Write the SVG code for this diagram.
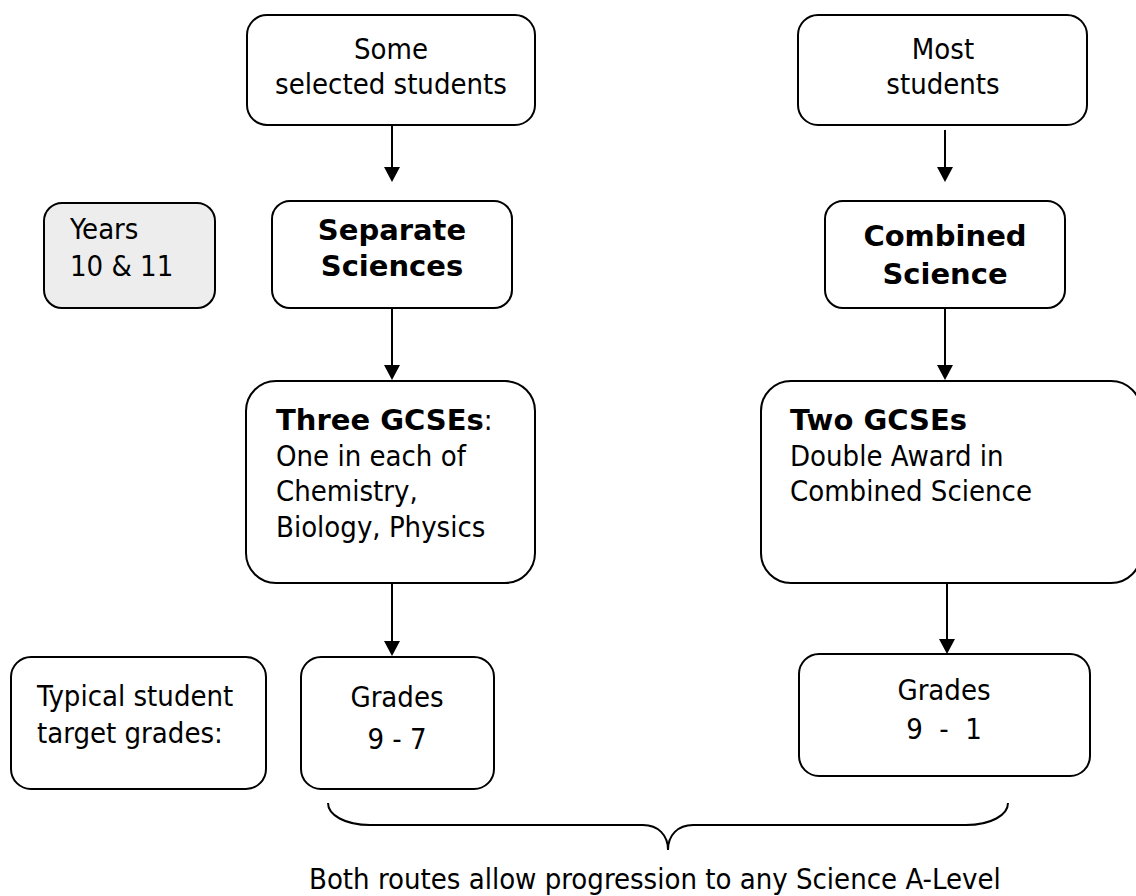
<svg xmlns="http://www.w3.org/2000/svg" width="1136" height="896" viewBox="0 0 1136 896">
<style>
.box{fill:#ffffff;stroke:#000000;stroke-width:2}
.grey{fill:#ededed;stroke:#000000;stroke-width:2}
text{font-family:"DejaVu Sans Condensed","DejaVu Sans",sans-serif;font-stretch:condensed;font-size:29px;fill:#000000}
.c{text-anchor:middle}
.b{font-family:"DejaVu Sans",sans-serif;font-stretch:normal;font-weight:bold}
.line{stroke:#000000;stroke-width:2;fill:none}
.head{fill:#000000}
</style>
<defs>
<path id="ah" d="M-8,-15 L8,-15 L0,0 Z"/>
</defs>
<rect width="1136" height="896" fill="#ffffff"/>

<g id="some-students">
<rect class="box" x="247" y="15" width="288" height="110" rx="20"/>
<text class="c" x="391" y="59">Some</text>
<text class="c" x="391" y="94">selected students</text>
</g>

<g id="most-students">
<rect class="box" x="798" y="15" width="289" height="110" rx="20"/>
<text class="c" x="943" y="59">Most</text>
<text class="c" x="943" y="94">students</text>
</g>

<g id="years">
<rect class="grey" x="44" y="203" width="171" height="105" rx="18"/>
<text x="70" y="239">Years</text>
<text x="70" y="276">10 &amp; 11</text>
</g>

<g id="separate-sciences">
<rect class="box" x="272" y="201" width="240" height="107" rx="18"/>
<text class="c b" x="392" y="240">Separate</text>
<text class="c b" x="392" y="276">Sciences</text>
</g>

<g id="combined-science">
<rect class="box" x="825" y="201" width="240" height="107" rx="18"/>
<text class="c b" x="945" y="246">Combined</text>
<text class="c b" x="945" y="284">Science</text>
</g>

<g id="three-gcses">
<rect class="box" x="246" y="381" width="289" height="202" rx="30"/>
<text x="276" y="430"><tspan class="b">Three GCSEs</tspan>:</text>
<text x="276" y="466">One in each of</text>
<text x="276" y="501">Chemistry,</text>
<text x="276" y="537">Biology, Physics</text>
</g>

<g id="two-gcses">
<rect class="box" x="761" y="381" width="380" height="202" rx="30"/>
<text class="b" x="790" y="430">Two GCSEs</text>
<text x="790" y="466">Double Award in</text>
<text x="790" y="501">Combined Science</text>
</g>

<g id="typical">
<rect class="box" x="11" y="657" width="255" height="132" rx="20"/>
<text x="37" y="706">Typical student</text>
<text x="37" y="743">target grades:</text>
</g>

<g id="grades-9-7">
<rect class="box" x="301" y="657" width="193" height="132" rx="20"/>
<text class="c" x="397" y="707">Grades</text>
<text class="c" x="397" y="749">9 - 7</text>
</g>

<g id="grades-9-1">
<rect class="box" x="799" y="654" width="291" height="122" rx="20"/>
<text class="c" x="944" y="700">Grades</text>
<text class="c" x="944" y="739" xml:space="preserve">9  -  1</text>
</g>

<g id="connectors">
<line class="line" x1="392" y1="125" x2="392" y2="170"/>
<use href="#ah" class="head" transform="translate(392,182)"/>
<line class="line" x1="945" y1="130" x2="945" y2="170"/>
<use href="#ah" class="head" transform="translate(945,182)"/>
<line class="line" x1="392" y1="308" x2="392" y2="368"/>
<use href="#ah" class="head" transform="translate(392,380)"/>
<line class="line" x1="945" y1="308" x2="945" y2="368"/>
<use href="#ah" class="head" transform="translate(945,380)"/>
<line class="line" x1="392" y1="583" x2="392" y2="644"/>
<use href="#ah" class="head" transform="translate(392,656)"/>
<line class="line" x1="947" y1="583" x2="947" y2="642"/>
<use href="#ah" class="head" transform="translate(947,654)"/>
<path class="line" d="M328,803 C328,815 345,825 370,825 L643,825 C658,825 668,835 668,850 C668,835 678,825 693,825 L966,825 C991,825 1008,815 1008,803"/>
</g>

<g id="footer">
<text x="309" y="889">Both routes allow progression to any Science A-Level</text>
</g>
</svg>
